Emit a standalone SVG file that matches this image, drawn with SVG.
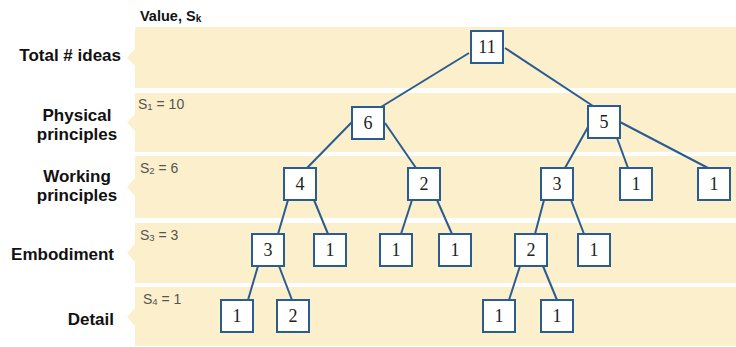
<svg xmlns="http://www.w3.org/2000/svg" width="736" height="347" viewBox="0 0 736 347">
<style>
.band{fill:#FCEFCB;stroke:none}
.lbl{font-family:"Liberation Sans",Arial,sans-serif;font-weight:bold;font-size:17px;fill:#111}
.s{font-family:"Liberation Sans",Arial,sans-serif;font-size:14px;fill:#555}
.sub{font-size:9.5px}
.box{fill:#fff;stroke:#2B5C90;stroke-width:2}
.num{font-family:"Liberation Serif","Times New Roman",serif;font-size:18px;fill:#222;text-anchor:middle}
.edge{stroke:#2B5C90;stroke-width:2;fill:none}
</style>
<rect width="736" height="347" fill="#fff"/>
<g id="bands">
<path class="band" d="M135,27 H736 V88 H135 V66 L127,57.5 L135,49 Z"/>
<path class="band" d="M135,93 H736 V152 H135 V131 L127,122.5 L135,114 Z"/>
<path class="band" d="M135,156 H736 V218 H135 V196 L127,187 L135,178 Z"/>
<path class="band" d="M135,223 H736 V283 H135 V262 L127,253 L135,244 Z"/>
<path class="band" d="M135,287 H736 V346 H135 V326 L127,317 L135,308 Z"/>
</g>
<g id="labels">
<text class="lbl" x="140" y="21" style="font-size:14.5px">Value, S<tspan style="font-size:10px" dy="1">k</tspan></text>
<text class="lbl" x="121" y="61" text-anchor="end">Total # ideas</text>
<text class="lbl" x="77" y="121" text-anchor="middle">Physical</text>
<text class="lbl" x="77" y="140" text-anchor="middle">principles</text>
<text class="lbl" x="77" y="182" text-anchor="middle">Working</text>
<text class="lbl" x="77" y="201" text-anchor="middle">principles</text>
<text class="lbl" x="114" y="260" text-anchor="end">Embodiment</text>
<text class="lbl" x="114" y="325" text-anchor="end">Detail</text>
<text class="s" x="138" y="109">S<tspan class="sub" dy="1">1</tspan><tspan dy="-1"> = 10</tspan></text>
<text class="s" x="140" y="173">S<tspan class="sub" dy="1">2</tspan><tspan dy="-1"> = 6</tspan></text>
<text class="s" x="140" y="240">S<tspan class="sub" dy="1">3</tspan><tspan dy="-1"> = 3</tspan></text>
<text class="s" x="143" y="304">S<tspan class="sub" dy="1">4</tspan><tspan dy="-1"> = 1</tspan></text>
</g>
<g id="connectors">
<line class="edge" x1="469" y1="53" x2="381" y2="107"/>
<line class="edge" x1="505" y1="48" x2="593" y2="106"/>
<line class="edge" x1="352" y1="122" x2="307" y2="168"/>
<line class="edge" x1="385" y1="123" x2="416" y2="168"/>
<line class="edge" x1="588" y1="127" x2="565" y2="168"/>
<line class="edge" x1="617" y1="138" x2="628" y2="168"/>
<line class="edge" x1="620" y1="122" x2="708" y2="168"/>
<line class="edge" x1="288" y1="200" x2="278" y2="234"/>
<line class="edge" x1="314" y1="200" x2="328" y2="234"/>
<line class="edge" x1="412" y1="200" x2="401" y2="234"/>
<line class="edge" x1="437" y1="200" x2="452" y2="234"/>
<line class="edge" x1="544" y1="200" x2="535" y2="234"/>
<line class="edge" x1="571" y1="200" x2="584" y2="234"/>
<line class="edge" x1="258" y1="266" x2="248" y2="300"/>
<line class="edge" x1="279" y1="266" x2="292" y2="300"/>
<line class="edge" x1="520" y1="266" x2="509" y2="300"/>
<line class="edge" x1="543" y1="266" x2="557" y2="300"/>
</g>
<g id="n11"><rect class="box" x="471" y="31" width="32" height="32"/><text class="num" x="487" y="53">11</text></g>
<g id="n6"><rect class="box" x="352" y="107" width="32" height="32"/><text class="num" x="368" y="129">6</text></g>
<g id="n5"><rect class="box" x="588" y="106" width="32" height="32"/><text class="num" x="604" y="128">5</text></g>
<g id="n4"><rect class="box" x="284" y="168" width="32" height="32"/><text class="num" x="300" y="190">4</text></g>
<g id="n2a"><rect class="box" x="408" y="168" width="32" height="32"/><text class="num" x="424" y="190">2</text></g>
<g id="n3a"><rect class="box" x="541" y="168" width="32" height="32"/><text class="num" x="557" y="190">3</text></g>
<g id="n1a"><rect class="box" x="620" y="168" width="32" height="32"/><text class="num" x="636" y="190">1</text></g>
<g id="n1b"><rect class="box" x="698" y="168" width="32" height="32"/><text class="num" x="714" y="190">1</text></g>
<g id="n3b"><rect class="box" x="252" y="234" width="32" height="32"/><text class="num" x="268" y="256">3</text></g>
<g id="n1c"><rect class="box" x="314" y="234" width="32" height="32"/><text class="num" x="330" y="256">1</text></g>
<g id="n1d"><rect class="box" x="380" y="234" width="32" height="32"/><text class="num" x="396" y="256">1</text></g>
<g id="n1e"><rect class="box" x="439" y="234" width="32" height="32"/><text class="num" x="455" y="256">1</text></g>
<g id="n2b"><rect class="box" x="515" y="234" width="32" height="32"/><text class="num" x="531" y="256">2</text></g>
<g id="n1f"><rect class="box" x="578" y="234" width="32" height="32"/><text class="num" x="594" y="256">1</text></g>
<g id="n1g"><rect class="box" x="221" y="300" width="32" height="32"/><text class="num" x="237" y="322">1</text></g>
<g id="n2c"><rect class="box" x="277" y="300" width="32" height="32"/><text class="num" x="293" y="322">2</text></g>
<g id="n1h"><rect class="box" x="483" y="300" width="32" height="32"/><text class="num" x="499" y="322">1</text></g>
<g id="n1i"><rect class="box" x="541" y="300" width="32" height="32"/><text class="num" x="557" y="322">1</text></g>
</svg>
